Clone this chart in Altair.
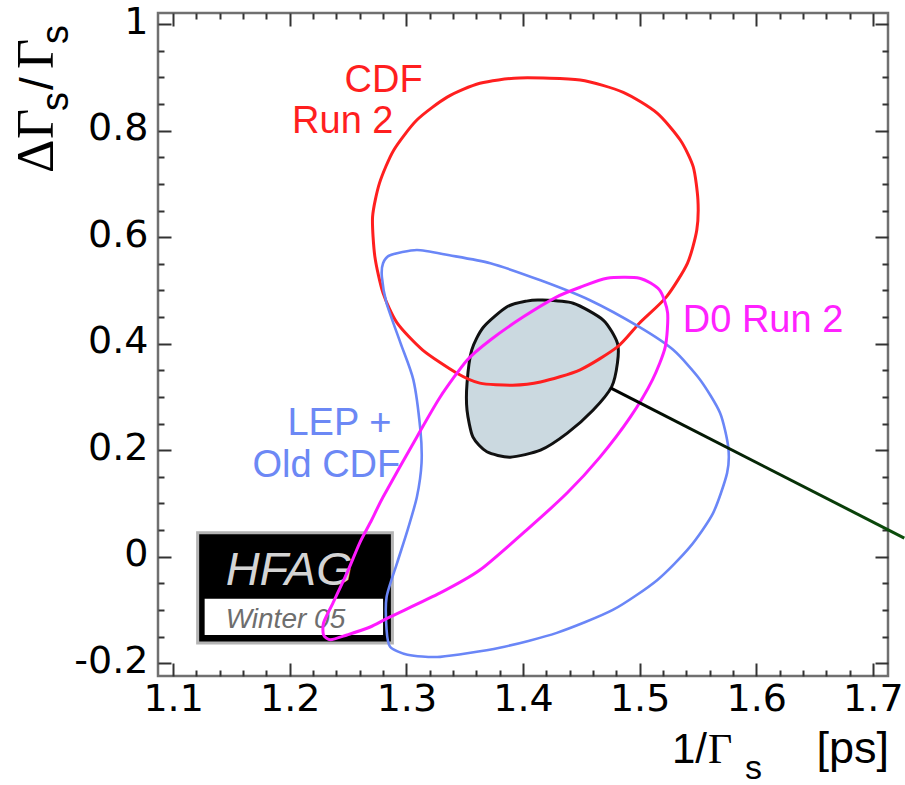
import altair as alt
import pandas as pd

# ---------------- axis ranges and ticks ----------------
x_domain = [1.087, 1.713]
y_domain = [-0.224, 1.021]
x_major = [1.1, 1.2, 1.3, 1.4, 1.5, 1.6, 1.7]
x_minor = [1.12, 1.14, 1.16, 1.18, 1.22, 1.24, 1.26, 1.28, 1.32, 1.34, 1.36, 1.38,
           1.42, 1.44, 1.46, 1.48, 1.52, 1.54, 1.56, 1.58, 1.62, 1.64, 1.66, 1.68]
y_major = [-0.2, 0.0, 0.2, 0.4, 0.6, 0.8, 1.0]
y_minor = [-0.15, -0.1, -0.05, 0.05, 0.1, 0.15, 0.25, 0.3, 0.35, 0.45, 0.5, 0.55,
           0.65, 0.7, 0.75, 0.85, 0.9, 0.95]

# ---------------- contours ----------------
cdf_x = [1.397, 1.449, 1.486, 1.515, 1.535, 1.546, 1.550, 1.549, 1.541, 1.523, 1.500,
         1.481, 1.449, 1.415, 1.391, 1.363, 1.343, 1.314, 1.292, 1.280, 1.273, 1.271,
         1.277, 1.289, 1.309, 1.335, 1.363]
cdf_y = [0.899, 0.895, 0.872, 0.833, 0.782, 0.732, 0.670, 0.613, 0.551, 0.488, 0.439,
         0.394, 0.351, 0.328, 0.322, 0.326, 0.345, 0.388, 0.439, 0.495, 0.563, 0.638,
         0.702, 0.763, 0.820, 0.863, 0.889]

lep_x = [1.280, 1.286, 1.309, 1.337, 1.372, 1.415, 1.457, 1.500, 1.529, 1.552, 1.569,
         1.576, 1.575, 1.563, 1.543, 1.515, 1.477, 1.429, 1.380, 1.329, 1.301, 1.286,
         1.283, 1.283, 1.292, 1.301, 1.309, 1.313, 1.312, 1.306, 1.295, 1.283, 1.279]
lep_y = [0.551, 0.566, 0.576, 0.566, 0.551, 0.519, 0.482, 0.431, 0.388, 0.332, 0.270,
         0.206, 0.157, 0.082, 0.018, -0.044, -0.100, -0.143, -0.171, -0.188, -0.184, -0.169,
         -0.137, -0.076, -0.012, 0.050, 0.112, 0.176, 0.238, 0.332, 0.401, 0.476, 0.525]

d0_x = [1.472, 1.500, 1.517, 1.524, 1.522, 1.511, 1.492, 1.466, 1.438, 1.403, 1.363,
        1.329, 1.286, 1.269, 1.249, 1.235, 1.229, 1.229, 1.237, 1.249, 1.260, 1.270,
        1.280, 1.309, 1.329, 1.352, 1.372, 1.400, 1.429, 1.449]
d0_y = [0.523, 0.523, 0.501, 0.458, 0.394, 0.332, 0.262, 0.187, 0.120, 0.050, -0.025,
        -0.068, -0.113, -0.132, -0.147, -0.156, -0.147, -0.124, -0.087, -0.031, 0.026, 0.068,
        0.112, 0.225, 0.300, 0.369, 0.407, 0.450, 0.488, 0.506]

avg_x = [1.415, 1.443, 1.469, 1.481, 1.481, 1.476, 1.460, 1.438, 1.415, 1.389, 1.369,
         1.357, 1.352, 1.352, 1.356, 1.366, 1.386, 1.403]
avg_y = [0.482, 0.476, 0.444, 0.401, 0.364, 0.319, 0.275, 0.232, 0.200, 0.187, 0.197,
         0.225, 0.275, 0.326, 0.388, 0.431, 0.469, 0.480]

pointer_x = [1.475, 1.727]
pointer_y = [0.317, 0.035]

# ---------------- annotations ----------------
label_text = ["CDF", "Run 2", "D0 Run 2", "LEP +", "Old CDF"]
label_x = [1.247, 1.202, 1.537, 1.198, 1.168]
label_y = [0.872, 0.795, 0.422, 0.229, 0.150]
label_color = ["#ff1f1f", "#ff1f1f", "#ff22ff", "#6c88f5", "#6c88f5"]

box_x = [1.121, 1.288]
box_y = [0.045, -0.162]
inner_x = [1.127, 1.280]
inner_y = [-0.079, -0.147]
logo_text = ["HFAG", "Winter  05"]
logo_x = [1.145, 1.145]
logo_y = [-0.053, -0.134]

xs = alt.Scale(domain=x_domain, nice=False, zero=False)
ys = alt.Scale(domain=y_domain, nice=False, zero=False)


def contour_df(xv, yv):
    return pd.DataFrame({"x": xv, "y": yv, "i": list(range(len(xv)))})


def contour(xv, yv, color, width=3.0, fill=None):
    kw = dict(color=color, strokeWidth=width, interpolate="cardinal-closed", tension=0.3)
    if fill is not None:
        kw["fill"] = fill
    return alt.Chart(contour_df(xv, yv)).mark_line(**kw).encode(
        x=alt.X("x:Q", scale=xs, axis=None),
        y=alt.Y("y:Q", scale=ys, axis=None),
        order="i:Q",
    )


anchor = pd.DataFrame({"x": [1.4], "y": [0.4]})
FONT = "Liberation Sans"
TICKFONT = "DejaVu Sans"
SERIF = "Liberation Serif"


def axis_layer(ox, oy, xv, yv, size, labels=False):
    common = dict(domain=False, grid=False, title=None)
    if labels:
        ax = alt.Axis(orient=ox, values=xv, ticks=False, labels=True, labelFont=TICKFONT,
                      labelFontSize=38, labelColor="black", labelPadding=4,
                      labelExpr="format(datum.value, '.1f')", **common)
        ay = alt.Axis(orient=oy, values=yv, ticks=False, labels=True, labelFont=TICKFONT,
                      labelFontSize=38, labelColor="black", labelPadding=10, labelOffset=-2,
                      labelExpr="datum.value < 0 ? '-' + format(-datum.value, '~g') : format(datum.value, '~g')",
                      **common)
    else:
        ax = alt.Axis(orient=ox, values=xv, ticks=True, labels=False,
                      tickSize=alt.ExprRef(expr=str(-size)), tickColor="#333333",
                      tickWidth=2, **common)
        ay = alt.Axis(orient=oy, values=yv, ticks=True, labels=False,
                      tickSize=alt.ExprRef(expr=str(-size)), tickColor="#333333",
                      tickWidth=2, **common)
    return alt.Chart(anchor).mark_point(opacity=0).encode(
        x=alt.X("x:Q", scale=xs, axis=ax),
        y=alt.Y("y:Q", scale=ys, axis=ay),
    )


axes = [
    axis_layer("bottom", "left", x_major, y_major, 0, labels=True),
    axis_layer("bottom", "left", x_major, y_major, 13),
    axis_layer("bottom", "left", x_minor, y_minor, 6),
    axis_layer("top", "right", x_major, y_major, 13),
    axis_layer("top", "right", x_minor, y_minor, 6),
]

box_df = pd.DataFrame({"x": [box_x[0]], "x2": [box_x[1]], "y": [box_y[0]], "y2": [box_y[1]]})
inner_df = pd.DataFrame({"x": [inner_x[0]], "x2": [inner_x[1]], "y": [inner_y[0]], "y2": [inner_y[1]]})

box = alt.Chart(box_df).mark_rect(fill="black", stroke="#b4b4b4", strokeWidth=3).encode(
    x=alt.X("x:Q", scale=xs, axis=None), x2="x2:Q",
    y=alt.Y("y:Q", scale=ys, axis=None), y2="y2:Q")
inner = alt.Chart(inner_df).mark_rect(fill="white").encode(
    x=alt.X("x:Q", scale=xs, axis=None), x2="x2:Q",
    y=alt.Y("y:Q", scale=ys, axis=None), y2="y2:Q")
logo1 = alt.Chart(pd.DataFrame({"t": [logo_text[0]], "x": [logo_x[0]], "y": [logo_y[0]]})).mark_text(
    font=FONT, fontSize=47, fontStyle="italic", color="#d4d4d4", align="left", baseline="alphabetic"
).encode(x=alt.X("x:Q", scale=xs, axis=None), y=alt.Y("y:Q", scale=ys, axis=None), text="t:N")
logo2 = alt.Chart(pd.DataFrame({"t": [logo_text[1]], "x": [logo_x[1]], "y": [logo_y[1]]})).mark_text(
    font=FONT, fontSize=28, fontStyle="italic", color="#6e6e6e", align="left", baseline="alphabetic"
).encode(x=alt.X("x:Q", scale=xs, axis=None), y=alt.Y("y:Q", scale=ys, axis=None), text="t:N")

pointer = alt.Chart(pd.DataFrame({"x": pointer_x, "y": pointer_y})).mark_line(
    strokeWidth=3, clip=False,
    stroke=alt.LinearGradient(gradient="linear", x1=0, x2=1, y1=0, y2=0,
                              stops=[alt.GradientStop(color="#000000", offset=0),
                                     alt.GradientStop(color="#0c4f0c", offset=1)])
).encode(x=alt.X("x:Q", scale=xs, axis=None), y=alt.Y("y:Q", scale=ys, axis=None))

labels_df = pd.DataFrame({"t": label_text, "x": label_x, "y": label_y, "c": label_color})
labels = alt.Chart(labels_df).mark_text(font=FONT, fontSize=38, align="left", baseline="alphabetic").encode(
    x=alt.X("x:Q", scale=xs, axis=None), y=alt.Y("y:Q", scale=ys, axis=None), text="t:N",
    color=alt.Color("c:N", scale=None))


def title_piece(text, px, py, size, font, angle=0, align="left"):
    kw = dict(text=text, font=font, fontSize=size, align=align, baseline="alphabetic", color="black")
    if angle:
        kw["angle"] = angle
    return alt.Chart(anchor).mark_text(**kw).encode(x=alt.value(px), y=alt.value(py))


titles = [
    # y title  (rotated)  ΔΓs/Γs
    title_piece("Δ", -105, 160, 52, SERIF, 270),
    title_piece("Γ", -105, 126, 52, SERIF, 270),
    title_piece("s", -90, 98, 38, FONT, 270),
    title_piece("/", -105, 77, 46, FONT, 270),
    title_piece("Γ", -105, 56, 52, SERIF, 270),
    title_piece("s", -90, 31, 38, FONT, 270),
    # x title  1/Γs [ps]
    title_piece("1/", 514, 750, 42, FONT),
    title_piece("Γ", 550, 750, 42, SERIF),
    title_piece("s", 587, 766, 34, FONT),
    title_piece("[ps]", 731, 750, 45, FONT, align="right"),
]

chart = alt.layer(
    *axes,
    box, inner, logo1, logo2,
    contour(avg_x, avg_y, "#111111", 3.0, fill="#cbd9e0"),
    contour(cdf_x, cdf_y, "#ff1f1f", 3.0),
    contour(lep_x, lep_y, "#6a86f7", 2.6),
    contour(d0_x, d0_y, "#ff1aff", 3.0),
    pointer,
    labels,
    *titles,
).resolve_axis(x="independent", y="independent").properties(
    width=730, height=663,
    autosize=alt.AutoSizeParams(type="none"),
    padding={"left": 158, "top": 13, "right": 17, "bottom": 109},
).configure_view(stroke="#707070", strokeWidth=2.5)

chart.save("out.html", embed_options={"renderer": "svg", "actions": False})
